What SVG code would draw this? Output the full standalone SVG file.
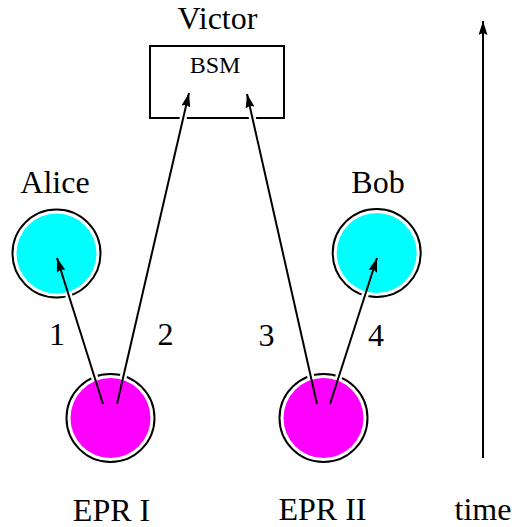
<svg xmlns="http://www.w3.org/2000/svg" width="512" height="527" viewBox="0 0 512 527">
<style>
text{font-family:"Liberation Serif","DejaVu Serif",serif;font-size:32px;fill:#000;text-anchor:middle}
.small{font-size:24px}
.ring{fill:none;stroke:#000;stroke-width:2}
.cyan{fill:#00ffff}
.mag{fill:#ff00ff}
.box{fill:none;stroke:#000;stroke-width:2}
.conn{stroke:#000;stroke-width:2;fill:none;marker-end:url(#arr)}
</style>
<defs>
<marker id="arr" markerUnits="userSpaceOnUse" markerWidth="15" markerHeight="9" refX="14" refY="4.5" orient="auto">
<path d="M0,0 L14,4.5 L0,9 L2,4.5 z" fill="#000"/>
</marker>
<mask id="gaps" maskUnits="userSpaceOnUse" x="0" y="0" width="512" height="527">
<rect x="0" y="0" width="512" height="527" fill="#fff"/>
<g stroke="#000" stroke-width="7">
<line x1="103" y1="404" x2="57" y2="258"/>
<line x1="117" y1="404" x2="189" y2="93"/>
<line x1="317" y1="404" x2="247" y2="94"/>
<line x1="330" y1="404" x2="377" y2="258"/>
</g>
</mask>
</defs>
<g id="victor">
<text x="217.5" y="29" font-family="Liberation Serif, serif">Victor</text>
<rect class="box" x="150" y="46" width="134" height="72" mask="url(#gaps)"/>
<text class="small" x="215" y="73" font-family="Liberation Serif, serif">BSM</text>
</g>
<g id="alice">
<text x="55" y="193" font-family="Liberation Serif, serif">Alice</text>
<circle class="ring" cx="56.5" cy="253.5" r="44" mask="url(#gaps)"/>
<circle class="cyan" cx="56.5" cy="253.5" r="40"/>
</g>
<g id="bob">
<text x="378" y="193" font-family="Liberation Serif, serif">Bob</text>
<circle class="ring" cx="376.7" cy="253" r="44" mask="url(#gaps)"/>
<circle class="cyan" cx="376.7" cy="253" r="40"/>
</g>
<g id="epr1">
<circle class="ring" cx="110.5" cy="418" r="44" mask="url(#gaps)"/>
<circle class="mag" cx="110.5" cy="418" r="40"/>
<text x="111.5" y="521" font-family="Liberation Serif, serif">EPR I</text>
</g>
<g id="epr2">
<circle class="ring" cx="323.5" cy="418" r="44" mask="url(#gaps)"/>
<circle class="mag" cx="323.5" cy="418" r="40"/>
<text x="322.5" y="520" font-family="Liberation Serif, serif">EPR II</text>
</g>
<g id="connectors">
<line class="conn" x1="103" y1="404" x2="57" y2="258"/>
<line class="conn" x1="117" y1="404" x2="189" y2="93"/>
<line class="conn" x1="317" y1="404" x2="247" y2="94"/>
<line class="conn" x1="330" y1="404" x2="377" y2="258"/>
<text x="57" y="345" font-family="Liberation Serif, serif">1</text>
<text x="165.5" y="345" font-family="Liberation Serif, serif">2</text>
<text x="266.5" y="346" font-family="Liberation Serif, serif">3</text>
<text x="376" y="346" font-family="Liberation Serif, serif">4</text>
</g>
<g id="time">
<line class="conn" x1="483" y1="458" x2="483" y2="21"/>
<text x="483" y="520" font-family="Liberation Serif, serif">time</text>
</g>
</svg>
